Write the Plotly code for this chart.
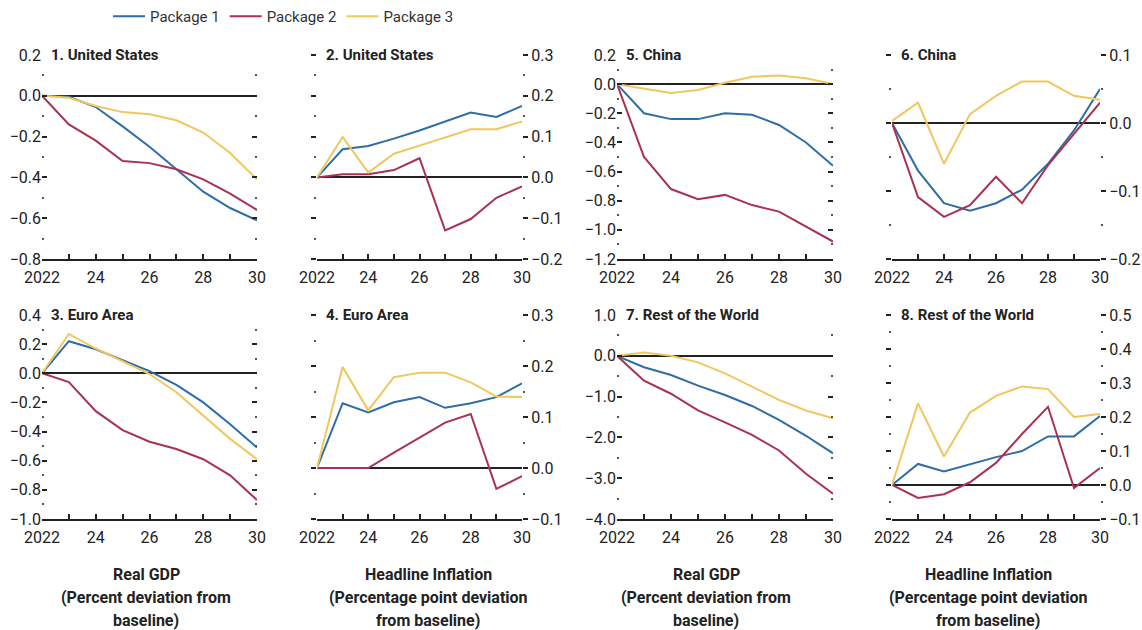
import plotly.graph_objects as go

# ---------------- data ----------------
years = [2022, 2023, 2024, 2025, 2026, 2027, 2028, 2029, 2030]
year_labels = ["2022", "", "24", "", "26", "", "28", "", "30"]
series_names = ["Package 1", "Package 2", "Package 3"]

# 1. United States - Real GDP
us_gdp_pkg1 = [0, -0.005, -0.055, -0.15, -0.25, -0.36, -0.47, -0.55, -0.61]
us_gdp_pkg2 = [0, -0.14, -0.22, -0.32, -0.33, -0.36, -0.41, -0.48, -0.56]
us_gdp_pkg3 = [0, -0.01, -0.05, -0.08, -0.09, -0.12, -0.18, -0.28, -0.41]
# 2. United States - Headline inflation
us_inf_pkg1 = [0, 0.069, 0.077, 0.095, 0.115, 0.137, 0.159, 0.148, 0.175]
us_inf_pkg2 = [0, 0.008, 0.008, 0.018, 0.047, -0.13, -0.102, -0.05, -0.022]
us_inf_pkg3 = [0, 0.099, 0.012, 0.058, 0.078, 0.098, 0.118, 0.118, 0.137]
# 3. Euro Area - Real GDP
ea_gdp_pkg1 = [0, 0.22, 0.165, 0.09, 0.015, -0.08, -0.2, -0.35, -0.51]
ea_gdp_pkg2 = [0, -0.06, -0.26, -0.39, -0.47, -0.52, -0.59, -0.70, -0.87]
ea_gdp_pkg3 = [0, 0.27, 0.17, 0.08, -0.005, -0.13, -0.29, -0.45, -0.59]
# 4. Euro Area - Headline inflation
ea_inf_pkg1 = [0, 0.127, 0.109, 0.129, 0.139, 0.118, 0.127, 0.139, 0.166]
ea_inf_pkg2 = [0, 0.0, 0.0, 0.03, 0.06, 0.089, 0.106, -0.041, -0.016]
ea_inf_pkg3 = [0, 0.198, 0.113, 0.178, 0.187, 0.187, 0.168, 0.14, 0.139]
# 5. China - Real GDP
cn_gdp_pkg1 = [0, -0.2, -0.24, -0.24, -0.2, -0.21, -0.28, -0.40, -0.56]
cn_gdp_pkg2 = [0, -0.5, -0.72, -0.79, -0.76, -0.83, -0.875, -0.98, -1.08]
cn_gdp_pkg3 = [0, -0.03, -0.06, -0.04, 0.01, 0.05, 0.06, 0.04, 0.0]
# 6. China - Headline inflation
cn_inf_pkg1 = [0, -0.07, -0.118, -0.129, -0.118, -0.098, -0.06, -0.011, 0.05]
cn_inf_pkg2 = [0, -0.109, -0.138, -0.121, -0.079, -0.118, -0.062, -0.016, 0.03]
cn_inf_pkg3 = [0.003, 0.03, -0.06, 0.013, 0.04, 0.061, 0.061, 0.04, 0.034]
# 7. Rest of the World - Real GDP
rw_gdp_pkg1 = [0, -0.28, -0.47, -0.73, -0.96, -1.23, -1.57, -1.96, -2.39]
rw_gdp_pkg2 = [0, -0.61, -0.93, -1.34, -1.63, -1.94, -2.32, -2.89, -3.38]
rw_gdp_pkg3 = [0, 0.08, 0.0, -0.16, -0.43, -0.75, -1.08, -1.34, -1.53]
# 8. Rest of the World - Headline inflation
rw_inf_pkg1 = [0, 0.062, 0.04, 0.062, 0.082, 0.10, 0.143, 0.143, 0.203]
rw_inf_pkg2 = [0, -0.038, -0.027, 0.008, 0.065, 0.15, 0.23, -0.009, 0.05]
rw_inf_pkg3 = [0, 0.24, 0.084, 0.213, 0.262, 0.29, 0.282, 0.2, 0.209]

panel_titles = ["1. United States", "2. United States", "5. China", "6. China",
                "3. Euro Area", "4. Euro Area", "7. Rest of the World", "8. Rest of the World"]
panel_series = [
    [us_gdp_pkg1, us_gdp_pkg2, us_gdp_pkg3],
    [us_inf_pkg1, us_inf_pkg2, us_inf_pkg3],
    [cn_gdp_pkg1, cn_gdp_pkg2, cn_gdp_pkg3],
    [cn_inf_pkg1, cn_inf_pkg2, cn_inf_pkg3],
    [ea_gdp_pkg1, ea_gdp_pkg2, ea_gdp_pkg3],
    [ea_inf_pkg1, ea_inf_pkg2, ea_inf_pkg3],
    [rw_gdp_pkg1, rw_gdp_pkg2, rw_gdp_pkg3],
    [rw_inf_pkg1, rw_inf_pkg2, rw_inf_pkg3],
]
y_ranges = [(-0.8, 0.2), (-0.2, 0.3), (-1.2, 0.2), (-0.2, 0.1),
             (-1.0, 0.4), (-0.1, 0.3), (-4.0, 1.0), (-0.1, 0.5)]
y_dticks = [0.2, 0.1, 0.2, 0.1, 0.2, 0.1, 1.0, 0.1]
y_sides = ["left", "right", "left", "right", "left", "right", "left", "right"]

bottom_labels = [
    ["Real GDP", "(Percent deviation from", "baseline)"],
    ["Headline Inflation", "(Percentage point deviation", "from baseline)"],
    ["Real GDP", "(Percent deviation from", "baseline)"],
    ["Headline Inflation", "(Percentage point deviation", "from baseline)"],
]

# ---------------- styling / layout ----------------
W, H = 1142, 630
colors = ["#2f6da6", "#a8324f", "#f0c75e"]
FONT = "Roboto, Liberation Sans, sans-serif"
INK = "#222222"

col_px = [(42, 257), (317, 522), (617, 833), (892, 1100)]
row_px = [(55, 259), (315, 519)]
label_cx = [146, 428, 706, 988]
label_y = [574, 597, 620]

fig = go.Figure()
layout = dict(
    width=W, height=H, margin=dict(l=0, r=0, t=0, b=0, autoexpand=False),
    paper_bgcolor="white", plot_bgcolor="white",
    font=dict(family=FONT, size=15, color=INK),
    showlegend=True,
    legend=dict(orientation="h", x=108 / W, y=1, xanchor="left", yanchor="top",
                font=dict(size=15, color="#333"), itemwidth=32, tracegroupgap=0,
                bgcolor="rgba(0,0,0,0)"),
)
annotations = []

for p in range(8):
    r, c = divmod(p, 4)
    n = p + 1
    xs = "x" if n == 1 else f"x{n}"
    ys = "y" if n == 1 else f"y{n}"
    x0, x1 = col_px[c]
    y0, y1 = row_px[r]
    for s in range(3):
        fig.add_trace(go.Scatter(
            x=years, y=panel_series[p][s], mode="lines", name=series_names[s],
            line=dict(color=colors[s], width=2), xaxis=xs, yaxis=ys,
            legendgroup=series_names[s], showlegend=(p == 0), hoverinfo="skip"))
    dt = y_dticks[p]
    right = y_sides[p] == "right"
    layout["xaxis" if n == 1 else f"xaxis{n}"] = dict(
        domain=[x0 / W, x1 / W], anchor=ys, range=[2022, 2030], automargin=False,
        showline=True, linecolor=INK, linewidth=1.5,
        ticks="inside", ticklen=5, tickwidth=1.5, tickcolor=INK,
        tickvals=years, ticktext=year_labels, tickfont=dict(size=16),
        showgrid=False, zeroline=False, ticklabelstandoff=3,
    )
    layout["yaxis" if n == 1 else f"yaxis{n}"] = dict(
        domain=[1 - y1 / H, 1 - y0 / H], anchor=xs, range=list(y_ranges[p]),
        side=y_sides[p], showline=False, showgrid=False, automargin=False,
        zeroline=True, zerolinecolor=INK, zerolinewidth=1.5,
        dtick=dt, tick0=0, tickformat=".1f",
        ticks="outside" if right else "inside", ticklen=5, tickwidth=1.5, tickcolor=INK,
        mirror="ticks", tickfont=dict(size=16),
        minor=dict(dtick=dt / 2, tick0=0, ticks="outside" if right else "inside",
                   ticklen=2, tickwidth=1.5, tickcolor="#555", showgrid=False),
    )
    annotations.append(dict(
        text="<b>" + panel_titles[p] + "</b>", xref=f"{xs} domain", yref=f"{ys} domain",
        x=0, y=1, xanchor="left", yanchor="middle", xshift=7, showarrow=False,
        font=dict(size=15, color=INK, family=FONT)))

for c in range(4):
    for i, line in enumerate(bottom_labels[c]):
        annotations.append(dict(
            text="<b>" + line + "</b>", xref="paper", yref="paper",
            x=label_cx[c] / W, y=1 - label_y[i] / H, xanchor="center", yanchor="middle",
            showarrow=False, font=dict(size=16, color=INK, family=FONT)))

layout["annotations"] = annotations
fig.update_layout(**layout)
fig.write_html("out.html", config={"displayModeBar": False},
               post_script="document.body.style.margin='0';document.body.style.overflow='hidden';")
